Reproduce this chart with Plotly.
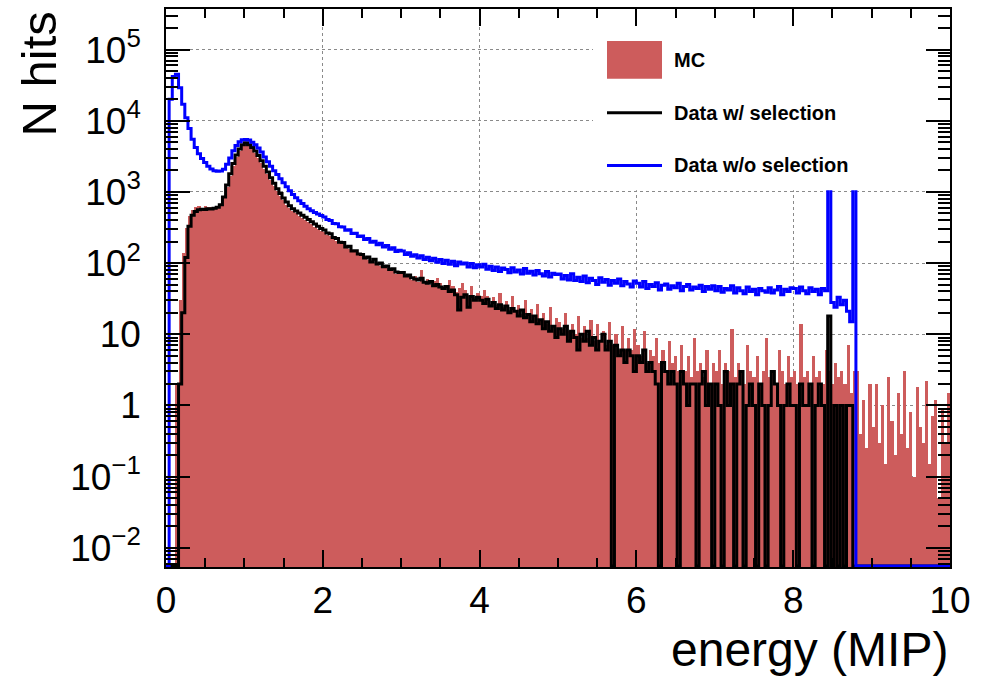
import numpy as np
import plotly.graph_objects as go

# ---------------- data ----------------
bin_width = 0.04          # MIP per bin, 250 bins from 0 to 10

mc_hits = (
    [0, 0, 0, 2, 30, 140, 310, 460, 560, 610, 630, 600, 640, 610, 620, 600, 640, 680, 820, 1180, 1700, 2350, 3100, 3800, 4400]
    + [4650, 4350, 3950, 3500, 3020, 2550, 2130, 1760, 1460, 1220, 1020, 875, 760, 665, 595, 540, 500, 465, 435, 405, 377, 350, 326, 304, 282]
    + [272, 248, 240, 218, 207, 190, 183, 166, 160, 146, 142, 129, 126, 115, 112, 103, 101, 93, 92, 84, 85, 77, 77, 70, 71]
    + [74, 63, 69, 58, 66, 55, 80, 52, 60, 49, 56, 62, 53, 44, 50, 58, 47, 39, 45, 52, 42, 35, 48, 33, 38]
    + [35, 42, 34, 27, 33, 26, 38, 24, 29, 22, 34, 21, 26, 19, 30, 18, 23, 17, 27, 16, 20, 14, 24, 13, 17]
    + [15, 12, 20, 11, 14, 10, 18, 9, 13, 9, 16, 8, 14, 8, 11, 7, 15, 7, 10, 6, 13, 6, 9, 6, 12]
    + [7, 5, 11, 4, 6, 5, 9, 4, 6, 3, 8, 4, 5, 3, 7, 3, 5, 2.5, 9, 3, 4, 2.5, 6, 2, 4]
    + [3, 6, 2, 4, 3, 12, 2.5, 4, 3, 2, 7, 3, 2.5, 5, 2, 3, 9, 2.5, 3, 2, 6, 3, 2, 5, 2.5]
    + [3, 2, 14, 2.5, 3, 2, 5, 2.5, 3, 2, 6, 3, 2, 4, 2.5, 3, 2, 7, 1.5, 3, 3, 0.4, 1.2, 0.25, 2]
    + [0.5, 2, 0.3, 1, 0.15, 2.5, 0.6, 0.2, 1.5, 0.4, 3, 0.25, 0.8, 0.1, 1.8, 0.5, 0.3, 2.2, 0.15, 0.7, 1.2, 0.05, 0.9, 0.3, 1.5]
)

data_sel_hits = (
    [0, 0, 0, 0, 2, 20, 120, 330, 470, 530, 560, 570, 565, 580, 575, 590, 610, 660, 850, 1250, 1800, 2500, 3300, 4000, 4600]
    + [4900, 4600, 4200, 3750, 3250, 2750, 2300, 1900, 1580, 1320, 1110, 950, 820, 720, 640, 580, 540, 505, 470, 440, 410, 380, 355, 330, 305]
    + [292, 265, 258, 228, 222, 196, 194, 168, 172, 148, 149, 134, 132, 118, 122, 104, 113, 97, 100, 89, 91, 81, 83, 75, 74]
    + [74, 66, 68, 62, 60, 58, 61, 54, 52, 55, 48, 50, 46, 44, 47, 40, 42, 36, 22, 33, 36, 24, 34, 30, 33]
    + [30, 27, 31, 25, 28, 23, 26, 22, 25, 20, 23, 21, 18, 22, 17, 19, 15, 18, 14, 16, 12, 15, 11, 13, 9]
    + [12, 10, 13, 8, 11, 9, 6, 10, 8, 11, 7, 9, 6, 8, 10, 6, 8, 0, 7, 5, 6, 4, 6, 5, 3]
    + [5, 4, 6, 3, 4, 3, 2, 0, 4, 3, 2, 3, 2, 0, 3, 2, 1, 2, 2, 0, 2, 3, 1, 2, 0]
    + [2, 1, 0, 3, 1, 2, 0, 2, 3, 0, 1, 2, 1, 0, 2, 1, 0, 1, 3, 2, 1, 0, 1, 2, 1]
    + [1, 0, 2, 1, 1, 2, 0, 1, 2, 1, 0, 18, 0, 1, 0, 1, 0, 1, 1, 0, 0, 0, 0, 0, 0]
    + [0] * 25
)

data_nosel_hits = (
    [0, 20000, 42000, 45000, 29000, 17000, 11000, 7800, 5500, 4200, 3450, 2950, 2600, 2300, 2100, 1980, 1950, 1960, 2080, 2450, 3000, 3800, 4500, 5050, 5400]
    + [5450, 5350, 5000, 4600, 4150, 3650, 3100, 2650, 2300, 1980, 1750, 1530, 1340, 1180, 1040, 920, 830, 750, 690, 630, 580, 545, 515, 490, 465]
    + [445, 410, 398, 360, 356, 324, 322, 290, 293, 260, 263, 236, 240, 214, 222, 197, 203, 181, 190, 168, 176, 156, 164, 146, 152]
    + [148, 132, 140, 125, 131, 118, 127, 112, 121, 108, 117, 103, 112, 99, 110, 96, 106, 92, 104, 97, 100, 88, 99, 86, 95]
    + [88, 96, 82, 90, 79, 88, 76, 85, 81, 73, 86, 75, 80, 70, 84, 72, 77, 68, 79, 71, 66, 76, 64, 72, 69]
    + [70, 60, 67, 58, 71, 57, 63, 55, 66, 53, 61, 57, 50, 62, 54, 59, 49, 57, 52, 60, 48, 55, 51, 46, 56]
    + [52, 46, 55, 44, 50, 47, 53, 42, 49, 51, 43, 48, 45, 52, 41, 47, 50, 42, 46, 44, 49, 40, 47, 43, 48]
    + [41, 47, 39, 44, 42, 48, 38, 45, 41, 37, 46, 40, 43, 36, 44, 41, 39, 45, 38, 42, 47, 36, 43, 40, 45]
    + [44, 38, 46, 41, 37, 45, 40, 43, 36, 44, 41, 1000000, 28, 24, 33, 26, 30, 21, 15, 1000000, 0, 0, 0, 0, 0]
    + [0] * 25
)

x_tick_vals = [0, 2, 4, 6, 8, 10]
x_tick_text = ["0", "2", "4", "6", "8", "10"]
y_tick_vals = [1e-2, 1e-1, 1, 10, 1e2, 1e3, 1e4, 1e5]
y_tick_text = ["10<sup>\u22122</sup>", "10<sup>\u22121</sup>", "1", "10",
               "10<sup>2</sup>", "10<sup>3</sup>", "10<sup>4</sup>", "10<sup>5</sup>"]

series_names = ["MC", "Data w/ selection", "Data w/o selection"]

# ---------------- geometry / style ----------------
Y_LOG_RANGE = [-2.27, 5.57]
MC_COLOR = "#CD5C5C"
FONT = "Liberation Sans, Arial, Helvetica, sans-serif"

W, H = 992, 677
ML, MR, MT, MB = 166, 42, 7, 110
PW, PH = W - ML - MR, H - MT - MB


def px_x(px):
    return (px - ML) / PW


def px_y(py):
    return (H - MB - py) / PH


def px_to_x_data(px):
    return (px - ML) / PW * 10.0


def px_to_y_data(py):
    frac = (H - MB - py) / PH
    return 10 ** (Y_LOG_RANGE[0] + frac * (Y_LOG_RANGE[1] - Y_LOG_RANGE[0]))


n_bins = len(mc_hits)
edges = np.arange(n_bins + 1) * bin_width
centers = edges[:-1] + bin_width / 2
floor_val = 10 ** (Y_LOG_RANGE[0] + 0.015)


def step_y(vals):
    v = [max(float(a), floor_val) for a in vals]
    return v + [v[-1]]


fig = go.Figure()

fig.add_trace(go.Bar(
    x=centers, y=mc_hits, width=bin_width,
    marker=dict(color=MC_COLOR, line=dict(width=0)),
    name=series_names[0], showlegend=False,
))
fig.add_trace(go.Scatter(
    x=edges, y=step_y(data_sel_hits), mode="lines",
    line=dict(color="black", width=3, shape="hv"),
    name=series_names[1], showlegend=False,
))
fig.add_trace(go.Scatter(
    x=edges, y=step_y(data_nosel_hits), mode="lines",
    line=dict(color="#0000FF", width=3, shape="hv"),
    name=series_names[2], showlegend=False,
))

# white legend pad: drawn in the trace layer so that it hides grid + data but
# the axis ticks stay on top (as in ROOT)
lx0, lx1 = px_to_x_data(593), 10.5
ly0, ly1 = px_to_y_data(189), 1e8
fig.add_trace(go.Scatter(
    x=[lx0, lx1, lx1, lx0, lx0], y=[ly0, ly0, ly1, ly1, ly0],
    mode="lines", line=dict(width=0, color="white"), fill="toself",
    fillcolor="white", hoverinfo="skip", showlegend=False,
))

axis_common = dict(
    showline=True, linecolor="black", linewidth=1.5, mirror="ticks",
    ticks="inside", tickcolor="black", tickwidth=1.5,
    showgrid=True, gridcolor="#8a8a8a", gridwidth=1, griddash="dot",
    zeroline=False,
    tickfont=dict(family=FONT, size=37, color="black"),
)

fig.update_xaxes(
    range=[0, 10], tickmode="array", tickvals=x_tick_vals, ticktext=x_tick_text,
    ticklen=17, ticklabelstandoff=0,
    minor=dict(ticks="inside", ticklen=9, tickwidth=1.5, tickcolor="black",
               tickmode="linear", tick0=0, dtick=0.5, showgrid=False),
    **axis_common,
)
fig.update_yaxes(
    type="log", range=Y_LOG_RANGE, tickmode="array", tickvals=y_tick_vals,
    ticktext=y_tick_text, ticklen=24, ticklabelstandoff=16,
    minor=dict(ticks="inside", ticklen=12, tickwidth=1.5, tickcolor="black",
               dtick="D1", showgrid=False),
    **axis_common,
)

shapes = []
annotations = []

# legend symbols
shapes.append(dict(type="rect", xref="paper", yref="paper", layer="above",
                   x0=px_x(607), x1=px_x(662), y0=px_y(77), y1=px_y(39),
                   fillcolor=MC_COLOR, line=dict(width=0)))
shapes.append(dict(type="line", xref="paper", yref="paper", layer="above",
                   x0=px_x(607), x1=px_x(662), y0=px_y(111), y1=px_y(111),
                   line=dict(color="black", width=3)))
shapes.append(dict(type="line", xref="paper", yref="paper", layer="above",
                   x0=px_x(607), x1=px_x(662), y0=px_y(164), y1=px_y(164),
                   line=dict(color="#0000FF", width=3)))
for name, yy in zip(series_names, [58, 111, 164]):
    annotations.append(dict(
        text="<b>%s</b>" % name, xref="paper", yref="paper",
        x=px_x(672), y=px_y(yy), xanchor="left", yanchor="middle",
        showarrow=False, font=dict(family=FONT, size=20, color="black")))

# axis titles
annotations.append(dict(
    text="N hits", xref="paper", yref="paper", x=px_x(39), y=px_y(8),
    xanchor="center", yanchor="top", textangle=-90, showarrow=False,
    font=dict(family=FONT, size=49, color="black")))
annotations.append(dict(
    text="energy (MIP)", xref="paper", yref="paper", x=px_x(950), y=px_y(650),
    xanchor="right", yanchor="middle", showarrow=False,
    font=dict(family=FONT, size=48, color="black")))

fig.update_layout(
    width=W, height=H,
    margin=dict(l=ML, r=MR, t=MT, b=MB),
    paper_bgcolor="white", plot_bgcolor="white",
    bargap=0, barmode="overlay",
    showlegend=False,
    shapes=shapes, annotations=annotations,
    font=dict(family=FONT, color="black"),
)

fig.write_html("out.html")
